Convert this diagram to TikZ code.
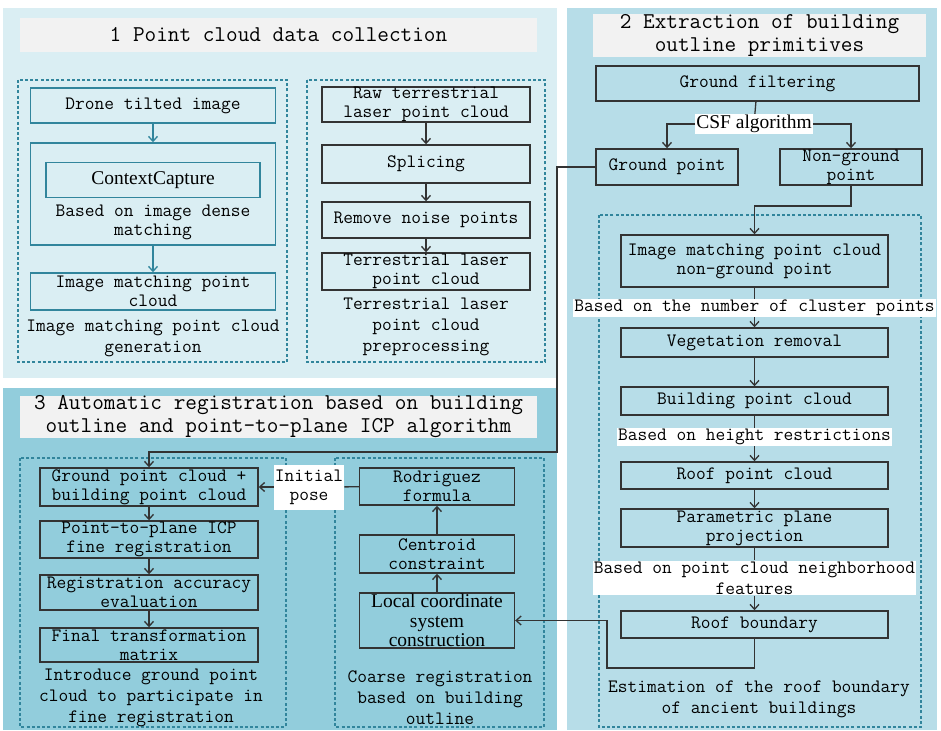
\documentclass[tikz,border=0pt]{standalone}
\usepackage{fontspec}
\setmainfont{Liberation Serif}
\usetikzlibrary{arrows.meta}

\definecolor{panelA}{RGB}{218,238,243}
\definecolor{panelB}{RGB}{183,221,232}
\definecolor{panelC}{RGB}{146,205,220}
\definecolor{grisT}{RGB}{242,242,242}
\definecolor{verdeazul}{RGB}{49,133,156}

\newcommand\txtmono{\ttfamily\fontsize{18.9}{19}\selectfont}
\newcommand\txtcap{\ttfamily\fontsize{18.9}{21}\selectfont}
\newcommand\txttit{\ttfamily\fontsize{22.6}{23}\selectfont}
\newcommand\txtserif{\fontsize{19.5}{19.5}\selectfont}

\begin{document}
\begin{tikzpicture}[x=1pt,y=-1pt,
    caja/.style={draw=black!80, line width=1.4pt, inner sep=0pt, align=center, font=\txtmono},
    cajaazul/.style={draw=verdeazul, line width=1.4pt, inner sep=0pt, align=center, font=\txtmono},
    grupo/.style={draw=verdeazul, line width=1.8pt, dash pattern=on 3pt off 2.2pt},
    titulo/.style={fill=grisT, inner sep=0pt, align=center, font=\txttit},
    etiq/.style={fill=white, inner sep=1pt, align=center, font=\txtmono},
    leyenda/.style={inner sep=0pt, align=center, font=\txtcap},
    flecha/.style={-{Straight Barb[length=5pt,width=9pt]}, line width=1.3pt, black!80},
    flechaazul/.style={-{Straight Barb[length=5pt,width=9pt]}, line width=1.3pt, verdeazul},
    linea/.style={line width=1.3pt, black!80}]
    \useasboundingbox (0,0) rectangle (941,730);

    % Paneles de fondo
    \fill[panelA] (3,8) rectangle (557,378);
    \fill[panelB] (567,8) rectangle (937,730);
    \fill[panelC] (3,388) rectangle (557,730);

    % Titulos
    \node[titulo, minimum width=517pt, minimum height=34pt] (tit1) at (278.5,35) {1 Point cloud data collection};
    \node[titulo, minimum width=333pt, minimum height=35pt] (tit2) at (759.5,35.5) {2 Extraction of building\\outline primitives};
    \node[titulo, minimum width=517pt, minimum height=38pt] (tit3) at (278.5,417) {3 Automatic registration based on building\\outline and point-to-plane ICP algorithm};

    % Grupos discontinuos
    \draw[grupo] (18,80) rectangle (287,362);
    \draw[grupo] (307,80) rectangle (545,362);
    \draw[grupo] (599,215) rectangle (921,727);
    \draw[grupo] (20,458) rectangle (286,727);
    \draw[grupo] (335,458) rectangle (544,727);

    % Panel 1: nube de imagen
    \node[cajaazul, minimum width=245pt, minimum height=35pt] (dron) at (153,105.5) {Drone tilted image};
    \node[cajaazul, minimum width=245pt, minimum height=102pt] (denso) at (153,194) {};
    \node[cajaazul, minimum width=214pt, minimum height=35pt, font=\txtserif] (cc) at (153,180) {ContextCapture};
    \node[leyenda, font=\txtmono] (densotxt) at (153,222) {Based on image dense\\matching};
    \node[cajaazul, minimum width=245pt, minimum height=37pt] (imgpc) at (153,291.5) {Image matching point\\cloud};
    \node[leyenda] (cap1) at (153,338) {Image matching point cloud\\generation};
    \draw[flechaazul] (dron) -- (denso);
    \draw[flechaazul] (denso) -- (imgpc);

    % Panel 1: laser terrestre
    \node[caja, minimum width=208pt, minimum height=33pt] (bruto) at (426,104.5) {Raw terrestrial\\laser point cloud};
    \node[caja, minimum width=208pt, minimum height=38pt] (empalme) at (426,164) {Splicing};
    \node[caja, minimum width=208pt, minimum height=36pt] (ruido) at (426,220) {Remove noise points};
    \node[caja, minimum width=208pt, minimum height=37pt] (terr) at (426,271.5) {Terrestrial laser\\point cloud};
    \node[leyenda] (cap2) at (426,327) {Terrestrial laser\\point cloud\\preprocessing};
    \draw[flecha] (bruto) -- (empalme);
    \draw[flecha] (empalme) -- (ruido);
    \draw[flecha] (ruido) -- (terr);

    % Panel 2: extraccion de contorno
    \node[caja, minimum width=323pt, minimum height=35pt] (filtro) at (757.5,83.5) {Ground filtering};
    \node[etiq, font=\txtserif] (csf) at (754,124) {CSF algorithm};
    \node[caja, minimum width=142pt, minimum height=36pt] (suelo) at (667,167) {Ground point};
    \node[caja, minimum width=142pt, minimum height=36pt] (nosuelo) at (851,167) {Non-ground\\point};
    \node[caja, minimum width=267pt, minimum height=52pt] (imgns) at (754.5,261) {Image matching point cloud\\non-ground point};
    \node[etiq] (lab1) at (754.5,308) {Based on the number of cluster points};
    \node[caja, minimum width=267pt, minimum height=29pt] (veget) at (754.5,342.5) {Vegetation removal};
    \node[caja, minimum width=267pt, minimum height=28pt] (edif) at (754.5,401) {Building point cloud};
    \node[etiq] (lab2) at (754.5,437) {Based on height restrictions};
    \node[caja, minimum width=267pt, minimum height=27pt] (techo) at (754.5,475.5) {Roof point cloud};
    \node[caja, minimum width=267pt, minimum height=38pt] (plano) at (754.5,528) {Parametric plane\\projection};
    \node[etiq, font=\txtcap] (lab3) at (754.5,578) {Based on point cloud neighborhood\\features};
    \node[caja, minimum width=267pt, minimum height=27pt] (borde) at (754.5,624.5) {Roof boundary};
    \node[leyenda] (cap3) at (759,699) {Estimation of the roof boundary\\of ancient buildings};
    \coordinate (k1) at (851,206);
    \draw[linea] (filtro) -- (csf);
    \draw[flecha] (csf.west) -| (suelo.north);
    \draw[flecha] (csf.east) -| (nosuelo.north);
    \draw[flecha] (nosuelo.south) -- (k1) -| (imgns.north);
    \draw[linea] (imgns) -- (lab1);
    \draw[flecha] (lab1) -- (veget);
    \draw[flecha] (veget) -- (edif);
    \draw[linea] (edif) -- (lab2);
    \draw[flecha] (lab2) -- (techo);
    \draw[flecha] (techo) -- (plano);
    \draw[linea] (plano) -- (lab3);
    \draw[flecha] (lab3) -- (borde);

    % Panel 3: registro fino
    \node[caja, minimum width=218pt, minimum height=38pt] (union) at (149,487) {Ground point cloud +\\building point cloud};
    \node[caja, minimum width=218pt, minimum height=37pt] (icp) at (149,539.5) {Point-to-plane ICP\\fine registration};
    \node[caja, minimum width=218pt, minimum height=35pt] (precision) at (149,592.5) {Registration accuracy\\evaluation};
    \node[caja, minimum width=218pt, minimum height=34pt] (matriz) at (149,645) {Final transformation\\matrix};
    \node[leyenda] (cap4) at (151,698) {Introduce ground point\\cloud to participate in\\fine registration};
    \draw[flecha] (union) -- (icp);
    \draw[flecha] (icp) -- (precision);
    \draw[flecha] (precision) -- (matriz);

    % Panel 3: registro grueso
    \node[caja, minimum width=155pt, minimum height=37pt] (rodri) at (437,486.5) {Rodriguez\\formula};
    \node[caja, minimum width=155pt, minimum height=38pt] (centro) at (437,554) {Centroid\\constraint};
    \node[caja, minimum width=155pt, minimum height=55pt, font=\txtserif] (local) at (437,620.5) {Local coordinate\\system\\construction};
    \node[leyenda] (cap5) at (440,698) {Coarse registration\\based on building\\outline};
    \node[etiq, minimum width=68pt, minimum height=45pt] (pose) at (309,487) {Initial\\pose};
    \draw[flecha] (local) -- (centro);
    \draw[flecha] (centro) -- (rodri);
    \draw[linea] (rodri) -- (pose);
    \draw[flecha] (pose) -- (union);

    % Conexiones entre paneles
    \coordinate (k2) at (607,668);
    \coordinate (k3) at (557,452);
    \draw[flecha] (borde.south) |- (k2) |- (local.east);
    \draw[flecha] (suelo.west) -| (k3) -| (union.north);
\end{tikzpicture}
\end{document}
